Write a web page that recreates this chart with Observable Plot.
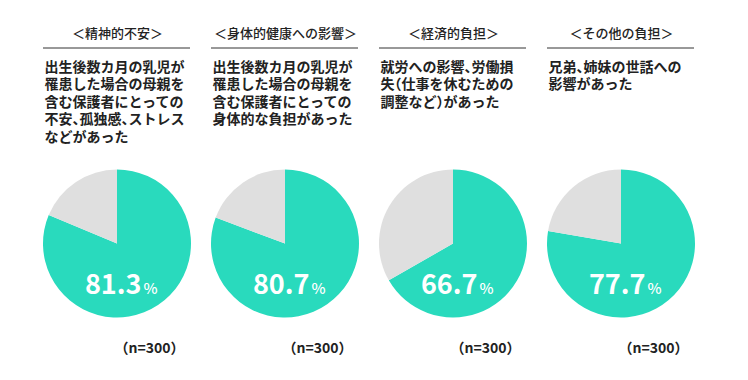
<!DOCTYPE html>
<html><head><meta charset="utf-8">
<script src="https://cdn.jsdelivr.net/npm/d3@7"></script>
<script src="https://cdn.jsdelivr.net/npm/@observablehq/plot@0.6"></script>
<style>
body{margin:0;background:#fff}
svg{font-family:"Noto Sans CJK JP","Noto Sans",sans-serif}
</style>
</head><body><div id="chart"></div>
<script>
const categories = ["＜精神的不安＞", "＜身体的健康への影響＞", "＜経済的負担＞", "＜その他の負担＞"];
const descriptions = [
  "出生後数カ月の乳児が\n罹患した場合の母親を\n含む保護者にとっての\n不安、孤独感、ストレス\nなどがあった",
  "出生後数カ月の乳児が\n罹患した場合の母親を\n含む保護者にとっての\n身体的な負担があった",
  "就労への影響、労働損\n失（仕事を休むための\n調整など）があった",
  "兄弟、姉妹の世話への\n影響があった"
];
const values = [81.3, 80.7, 66.7, 77.7];
const sampleSizes = [300, 300, 300, 300];

const GREEN = "#29DABD", GREY = "#DFDFDF", INK = "#222222";
const rows = categories.map((c, i) => ({category: c, description: descriptions[i], value: values[i], n: sampleSizes[i]}));

const pieMark = (index, scales) => {
  const g = d3.create("svg:g");
  const bw = scales.x.bandwidth ? scales.x.bandwidth() : 0;
  const arc = d3.arc().innerRadius(0).outerRadius(74);
  for (const r of rows) {
    const cx = scales.x(r.category) + bw / 2;
    const cy = scales.y(243.5);
    const a = r.value / 100 * 2 * Math.PI;
    const gg = g.append("g").attr("transform", `translate(${cx},${cy})`);
    gg.append("path").attr("d", arc({startAngle: 0, endAngle: a})).attr("fill", GREEN);
    gg.append("path").attr("d", arc({startAngle: a, endAngle: 2 * Math.PI})).attr("fill", GREY);
  }
  return g.node();
};

// half-width spacing for CJK punctuation, as in the reference typesetting
function halfPunct(node) {
  const walker = document.createTreeWalker(node, NodeFilter.SHOW_TEXT);
  const texts = [];
  while (walker.nextNode()) texts.push(walker.currentNode);
  for (const t of texts) {
    if (!/[、（）]/.test(t.data)) continue;
    const frag = document.createDocumentFragment();
    for (const p of t.data.split(/([、（）])/)) {
      if (p === "") continue;
      if (/^[、（）]$/.test(p)) {
        const s = document.createElementNS("http://www.w3.org/2000/svg", "tspan");
        s.setAttribute("style", "font-feature-settings:'halt'");
        s.textContent = p;
        frag.appendChild(s);
      } else frag.appendChild(document.createTextNode(p));
    }
    t.parentNode.replaceChild(frag, t);
  }
  return node;
}

const chart = Plot.plot({
  width: 748,
  height: 380,
  marginTop: 0, marginBottom: 0, marginLeft: 0, marginRight: 0,
  style: {background: "white", fontFamily: "'Noto Sans CJK JP','Noto Sans',sans-serif"},
  x: {type: "band", domain: categories, range: [33, 705], padding: 0, axis: null},
  y: {type: "linear", domain: [0, 380], range: [0, 380], axis: null},
  marks: [
    pieMark,
    Plot.text(rows, {x: "category", text: "category", frameAnchor: "top", dy: 33, lineAnchor: "middle", textAnchor: "middle", fontSize: 13, fontWeight: 500, fill: INK}),
    Plot.tickY(rows, {x: "category", y: () => 47.5, insetLeft: 10, insetRight: 11, stroke: "#333", strokeWidth: 1}),
    Plot.text(rows, {x: "category", text: "description", frameAnchor: "top", dy: 59, dx: -73, textAnchor: "start", lineAnchor: "top", lineHeight: 1.25, fontSize: 14, fontWeight: 700, fill: INK,
      render(index, scales, values, dims, ctx, next) { return halfPunct(next(index, scales, values, dims, ctx)); }}),
    Plot.text(rows, {x: "category", text: d => d.value.toFixed(1), frameAnchor: "top", dy: 293, dx: 24, textAnchor: "end", lineAnchor: "bottom", fontSize: 27, fontWeight: 700, fill: "white"}),
    Plot.text(rows, {x: "category", text: () => "%", frameAnchor: "top", dy: 293, dx: 26, textAnchor: "start", lineAnchor: "bottom", fontSize: 15, fontWeight: 500, fill: "white"}),
    Plot.text(rows, {x: "category", text: d => `（n=${d.n}）`, frameAnchor: "top", dy: 348, dx: 67, textAnchor: "end", lineAnchor: "middle", fontSize: 14, fontWeight: 700, fill: INK})
  ]
});
document.getElementById("chart").appendChild(chart);
</script>
</body></html>
